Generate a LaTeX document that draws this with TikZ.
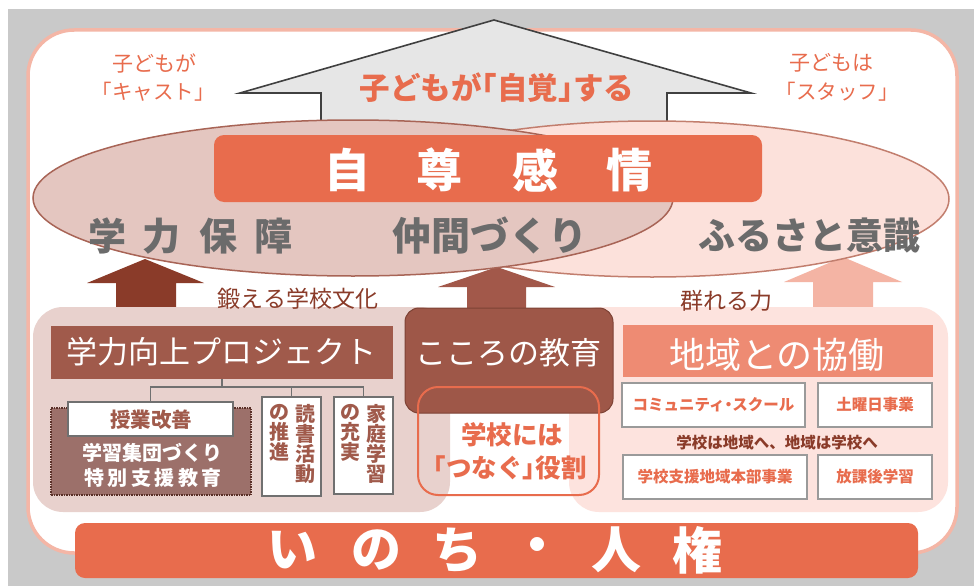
\documentclass[tikz,border=0pt]{standalone}
\usepackage{fontspec}
\setmainfont{Noto Sans CJK JP}
\usetikzlibrary{calc}
\definecolor{bggray}{HTML}{C9C9C9}
\definecolor{outerb}{HTML}{F4B6A6}
\definecolor{arrowgray}{HTML}{E6E6E6}
\definecolor{arrowline}{HTML}{404040}
\definecolor{mainorange}{HTML}{E86C4D}
\definecolor{salmon}{HTML}{EE8B73}
\definecolor{pbrown}{HTML}{A05A4B}
\definecolor{cbrown}{HTML}{9E5748}
\definecolor{cbrownd}{HTML}{7D4235}
\definecolor{darrow}{HTML}{8A3B29}
\definecolor{carrow}{HTML}{A2584A}
\definecolor{rarrow}{HTML}{F4B4A4}
\definecolor{lpanel}{HTML}{E8D1CD}
\definecolor{rpanel}{HTML}{FDE3DE}
\definecolor{dotfill}{HTML}{9C706A}
\definecolor{dotline}{HTML}{5A3028}
\definecolor{lellfill}{HTML}{E4C6C0}
\definecolor{lellline}{HTML}{A86456}
\definecolor{rellfill}{HTML}{FCE1DB}
\definecolor{rellline}{HTML}{C27E6E}
\definecolor{graytxt}{HTML}{6B6B6B}
\definecolor{boxgray}{HTML}{9A9A9A}
\definecolor{treegray}{HTML}{707070}
\definecolor{labelbrown}{HTML}{8A3B29}
\newcommand{\lbk}{\kern-.5em「}
\newcommand{\rbk}{」\kern-.5em}
\newcommand{\ndot}{\kern-.25em・\kern-.25em}
\begin{document}
\begin{tikzpicture}[x=1pt,y=-1pt,
  every node/.style={inner sep=0pt,outer sep=0pt},
  fs/.style={font=\fontsize{#1}{#1}\selectfont},
  fsb/.style={font=\bfseries\fontsize{#1}{#1}\selectfont},
  graylabel/.style={fsb=38,text=graytxt},
  whitebox/.style={fill=white,draw=boxgray,line width=1.5pt},
  smalltxt/.style={fsb=15.5,text=mainorange},
  vtxt/.style={anchor=north,align=center,fsb=20,text=pbrown},
  bigchar/.style={fsb=46,text=white},
  barchar/.style={fsb=50,text=white}]
\useasboundingbox (0,0) rectangle (974,586);
\fill[white] (0,0) rectangle (974,586);
\fill[bggray] (8,9) rectangle (974,586);
\draw[outerb,line width=3.5pt,fill=white,rounded corners=46pt] (28,30) rectangle (957,553);
% big gray arrow
\draw[fill=arrowgray,draw=arrowline,line width=1.6pt,line join=miter]
  (321,160) -- (321,93) -- (240,93) -- (494,20) -- (751,93) -- (667,93) -- (667,160);
\node[fsb=30.5,text=mainorange] (jikaku) at (497,88) {子どもが\lbk 自覚\rbk する};
\node[fs=21,text=mainorange] (castA) at (154,63) {子どもが};
\node[fs=20.5,text=mainorange] (castB) at (153,92) {\lbk キャスト\rbk};
\node[fs=21,text=mainorange] (staffA) at (831,63) {子どもは};
\node[fs=20.5,text=mainorange] (staffB) at (837,92) {\lbk スタッフ\rbk};
% block arrows
\fill[darrow] (116,320) -- (116,283) -- (87,283) -- (145,259) -- (204,283) -- (176,283) -- (176,320) -- cycle;
\fill[carrow] (467,320) -- (467,287) -- (438,287) -- (497,267) -- (555,287) -- (526,287) -- (526,320) -- cycle;
\fill[rarrow] (813,320) -- (813,282) -- (784,282) -- (843,257) -- (902,282) -- (873,282) -- (873,320) -- cycle;
% ellipses
\draw[fill=rellfill,draw=rellline,line width=1.5pt] (652,199) ellipse[x radius=297,y radius=78];
\draw[fill=lellfill,draw=lellline,line width=1.5pt] (353,198) ellipse[x radius=320,y radius=78];
% self-esteem bar
\node[fill=mainorange,rounded corners=10pt,minimum width=548pt,minimum height=67pt] (jison) at (488,168.5) {};
\node[bigchar] (c1) at (347,170) {自};
\node[bigchar] (c2) at (439,170) {尊};
\node[bigchar] (c3) at (535,170) {感};
\node[bigchar] (c4) at (629,170) {情};
% gray labels
\node[graylabel] (g1) at (107,236) {学};
\node[graylabel] (g2) at (161,236) {力};
\node[graylabel] (g3) at (218,236) {保};
\node[graylabel] (g4) at (273,236) {障};
\node[graylabel,fsb=39] (nakama) at (490,236) {仲間づくり};
\node[graylabel,fsb=37] (furusato) at (809,236) {ふるさと意識};
% panels
\fill[lpanel,rounded corners=30pt] (33,307) rectangle (450,512);
\fill[rpanel,rounded corners=30pt] (569,307) rectangle (948,512);
% arrow captions
\node[fs=23,text=labelbrown] (kitaeru) at (298,299) {鍛える学校文化};
\node[fs=23,text=labelbrown] (mureru) at (726,301) {群れる力};
% center box
\node[fill=cbrown,draw=cbrownd,line width=1pt,rounded corners=14pt,minimum width=208pt,minimum height=105pt] (kokoro) at (509,360.5) {};
\node[fs=31,text=white] (kokorot) at (508,353) {こころの教育};
\node[draw=mainorange,line width=2pt,rounded corners=20pt,minimum width=181pt,minimum height=108pt] (tsunagu) at (508.5,441) {};
\node[fsb=25.5,text=mainorange] (tsA) at (512,435) {学校には};
\node[fsb=25.5,text=mainorange] (tsB) at (510,468) {\lbk つなぐ\rbk 役割};
% left panel
\node[fill=pbrown,minimum width=342pt,minimum height=53pt] (proj) at (222,352.5) {};
\node[fs=31,text=white] (projt) at (221,352) {学力向上プロジェクト};
\node[fill=dotfill,draw=dotline,densely dotted,line width=1.5pt,minimum width=200pt,minimum height=87pt] (shudan) at (151,451.5) {};
\node[whitebox,line width=1.8pt,draw=treegray,minimum width=165pt,minimum height=34pt] (jugyo) at (150.5,419) {};
\node[fsb=20.5,text=pbrown] (jugyot) at (151,420) {授業改善};
\node[fsb=20,text=white] (shudant) at (152,453) {学習集団づくり};
\node[fsb=20,text=white] (tokubetsu) at (153,478) {特\hspace{3.4pt}別\hspace{3.4pt}支\hspace{3.4pt}援\hspace{3.4pt}教\hspace{3.4pt}育};
\node[whitebox,line width=1.8pt,draw=treegray,minimum width=59pt,minimum height=99pt] (dokusho) at (291.5,446.5) {};
\node[whitebox,line width=1.8pt,draw=treegray,minimum width=59pt,minimum height=97pt] (katei) at (363.5,445.5) {};
\node[vtxt] (dokuA) at (305,404) {読\\書\\活\\動};
\node[vtxt] (dokuB) at (279.5,404) {の\\推\\進};
\node[vtxt] (kateiA) at (376,404) {家\\庭\\学\\習};
\node[vtxt] (kateiB) at (350,404) {の\\充\\実};
\coordinate (bus) at (222,387);
\draw[treegray,line width=1.5pt] (proj.south) -- (bus);
\draw[treegray,line width=1.5pt] (jugyo.north) |- (bus);
\draw[treegray,line width=1.5pt] (dokusho.north) |- (bus);
\draw[treegray,line width=1.5pt] (katei.north) |- (bus);
% right panel
\node[fill=salmon,minimum width=310pt,minimum height=52pt] (chiiki) at (778,351) {};
\node[fs=36,text=white] (chiikit) at (777,355) {地域との協働};
\node[whitebox,minimum width=183pt,minimum height=44pt] (cs) at (713.5,405) {};
\node[smalltxt] (cst) at (713.5,405) {コミュニティ\ndot スクール};
\node[whitebox,minimum width=114pt,minimum height=44pt] (doyo) at (875,405) {};
\node[smalltxt] (doyot) at (875,405) {土曜日事業};
\node[fsb=15.5,text=labelbrown] (gakko) at (777,443) {学校は地域へ、地域は学校へ};
\node[whitebox,minimum width=184pt,minimum height=44pt] (shien) at (715,477) {};
\node[smalltxt] (shient) at (715,477) {学校支援地域本部事業};
\node[whitebox,minimum width=114pt,minimum height=44pt] (hokago) at (875,477) {};
\node[smalltxt] (hokagot) at (875,477) {放課後学習};
% bottom bar
\node[fill=mainorange,rounded corners=10pt,minimum width=843pt,minimum height=55pt] (inochi) at (496.5,550.5) {};
\node[barchar] (b1) at (292,550) {い};
\node[barchar] (b2) at (376,550) {の};
\node[barchar] (b3) at (457,550) {ち};
\node[barchar] (b4) at (537,550) {・};
\node[barchar] (b5) at (616,550) {人};
\node[barchar] (b6) at (697,550) {権};
\end{tikzpicture}
\end{document}
